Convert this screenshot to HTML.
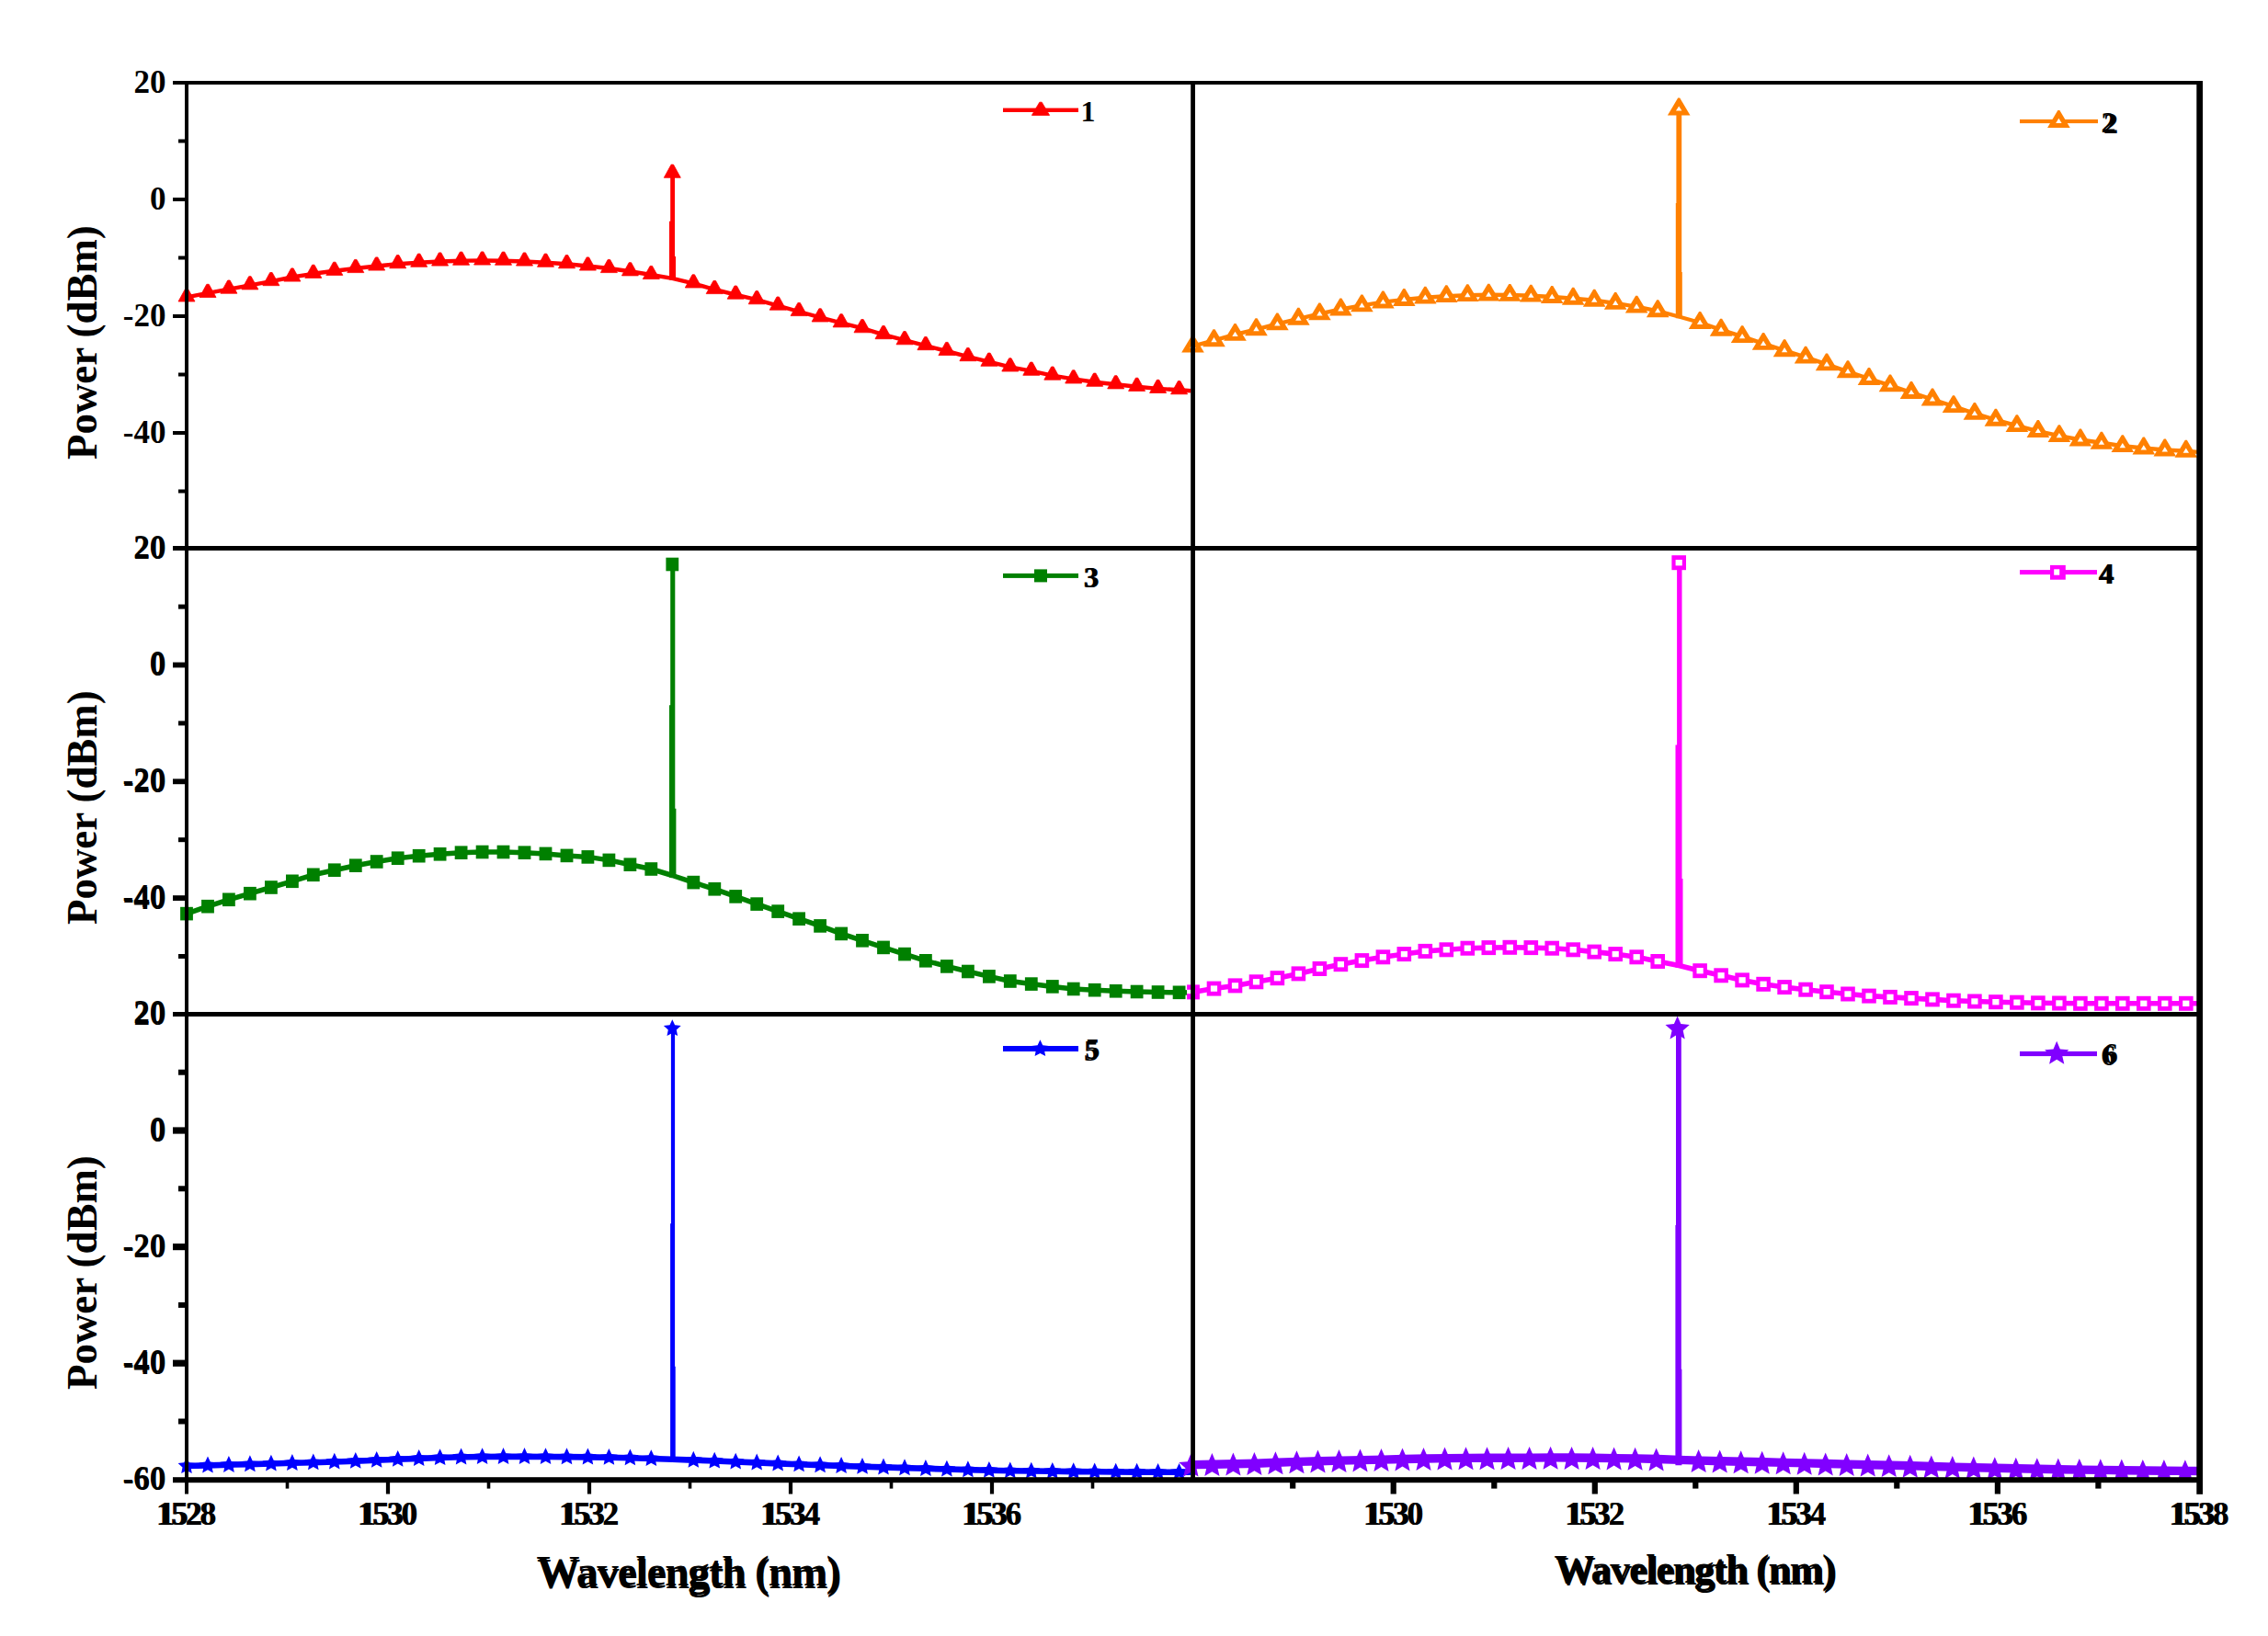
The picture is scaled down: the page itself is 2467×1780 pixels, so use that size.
<!DOCTYPE html>
<html lang="en"><head><meta charset="utf-8"><title>Spectra</title>
<style>html,body{margin:0;padding:0;background:#fff}svg{display:block}text{font-family:"Liberation Serif","DejaVu Serif",serif;font-weight:bold;fill:#000}</style></head><body>
<svg width="2467" height="1780" viewBox="0 0 2467 1780">
<rect width="2467" height="1780" fill="#fff"/>
<g>
<path d="M203 323.4L226 318.9L248.9 314.6L271.9 310.3L294.9 306.1L317.9 301.5L340.8 297.8L363.8 294.8L386.8 292L409.7 289.5L432.7 287.2L455.7 285.7L478.6 284.5L501.6 283.7L524.6 283.5L547.5 283.7L570.5 284.5L593.5 285.7L616.5 287.2L639.4 289.5L662.4 292L685.4 295.3L708.3 299L731.3 302.8L754.3 308.4L777.2 315L800.2 320.6L823.2 326.2L846.2 332.6L869.1 339L892.1 345.4L915.1 351.3L938 357.2L961 364.1L984 370.2L1006.9 376.1L1029.9 382L1052.9 388.1L1075.9 393.7L1098.8 399.4L1121.8 403.7L1144.8 408.6L1167.7 412.4L1190.7 415.7L1213.7 418.3L1236.6 420.8L1259.6 422.9L1282.6 424.2L1295.5 425.2" fill="none" stroke="#ff0000" stroke-width="4.4" stroke-linejoin="round"/>
<path d="M729.2 188.7L734 188.7L734 279L735 279L735 304.5L728 304.5L728 240.8L729.2 240.8Z" fill="#ff0000"/>
<path d="M201.8 313.8L204.2 313.8L212 328L194 328Z" fill="#ff0000" stroke="#ff0000" stroke-width="0.8" stroke-linejoin="round"/>
<path d="M224.8 309.3L227.2 309.3L235 323.5L217 323.5Z" fill="#ff0000" stroke="#ff0000" stroke-width="0.8" stroke-linejoin="round"/>
<path d="M247.7 305L250.1 305L257.9 319.2L239.9 319.2Z" fill="#ff0000" stroke="#ff0000" stroke-width="0.8" stroke-linejoin="round"/>
<path d="M270.7 300.7L273.1 300.7L280.9 314.9L262.9 314.9Z" fill="#ff0000" stroke="#ff0000" stroke-width="0.8" stroke-linejoin="round"/>
<path d="M293.7 296.5L296.1 296.5L303.9 310.7L285.9 310.7Z" fill="#ff0000" stroke="#ff0000" stroke-width="0.8" stroke-linejoin="round"/>
<path d="M316.7 291.9L319.1 291.9L326.9 306.1L308.9 306.1Z" fill="#ff0000" stroke="#ff0000" stroke-width="0.8" stroke-linejoin="round"/>
<path d="M339.6 288.2L342 288.2L349.8 302.4L331.8 302.4Z" fill="#ff0000" stroke="#ff0000" stroke-width="0.8" stroke-linejoin="round"/>
<path d="M362.6 285.2L365 285.2L372.8 299.4L354.8 299.4Z" fill="#ff0000" stroke="#ff0000" stroke-width="0.8" stroke-linejoin="round"/>
<path d="M385.6 282.4L388 282.4L395.8 296.6L377.8 296.6Z" fill="#ff0000" stroke="#ff0000" stroke-width="0.8" stroke-linejoin="round"/>
<path d="M408.5 279.9L410.9 279.9L418.7 294.1L400.7 294.1Z" fill="#ff0000" stroke="#ff0000" stroke-width="0.8" stroke-linejoin="round"/>
<path d="M431.5 277.6L433.9 277.6L441.7 291.8L423.7 291.8Z" fill="#ff0000" stroke="#ff0000" stroke-width="0.8" stroke-linejoin="round"/>
<path d="M454.5 276.1L456.9 276.1L464.7 290.3L446.7 290.3Z" fill="#ff0000" stroke="#ff0000" stroke-width="0.8" stroke-linejoin="round"/>
<path d="M477.4 274.9L479.8 274.9L487.6 289.1L469.6 289.1Z" fill="#ff0000" stroke="#ff0000" stroke-width="0.8" stroke-linejoin="round"/>
<path d="M500.4 274.1L502.8 274.1L510.6 288.3L492.6 288.3Z" fill="#ff0000" stroke="#ff0000" stroke-width="0.8" stroke-linejoin="round"/>
<path d="M523.4 273.9L525.8 273.9L533.6 288.1L515.6 288.1Z" fill="#ff0000" stroke="#ff0000" stroke-width="0.8" stroke-linejoin="round"/>
<path d="M546.3 274.1L548.8 274.1L556.5 288.3L538.5 288.3Z" fill="#ff0000" stroke="#ff0000" stroke-width="0.8" stroke-linejoin="round"/>
<path d="M569.3 274.9L571.7 274.9L579.5 289.1L561.5 289.1Z" fill="#ff0000" stroke="#ff0000" stroke-width="0.8" stroke-linejoin="round"/>
<path d="M592.3 276.1L594.7 276.1L602.5 290.3L584.5 290.3Z" fill="#ff0000" stroke="#ff0000" stroke-width="0.8" stroke-linejoin="round"/>
<path d="M615.3 277.6L617.7 277.6L625.5 291.8L607.5 291.8Z" fill="#ff0000" stroke="#ff0000" stroke-width="0.8" stroke-linejoin="round"/>
<path d="M638.2 279.9L640.6 279.9L648.4 294.1L630.4 294.1Z" fill="#ff0000" stroke="#ff0000" stroke-width="0.8" stroke-linejoin="round"/>
<path d="M661.2 282.4L663.6 282.4L671.4 296.6L653.4 296.6Z" fill="#ff0000" stroke="#ff0000" stroke-width="0.8" stroke-linejoin="round"/>
<path d="M684.2 285.7L686.6 285.7L694.4 299.9L676.4 299.9Z" fill="#ff0000" stroke="#ff0000" stroke-width="0.8" stroke-linejoin="round"/>
<path d="M707.1 289.4L709.5 289.4L717.3 303.6L699.3 303.6Z" fill="#ff0000" stroke="#ff0000" stroke-width="0.8" stroke-linejoin="round"/>
<path d="M730.1 179.1L732.5 179.1L740.3 193.3L722.3 193.3Z" fill="#ff0000" stroke="#ff0000" stroke-width="0.8" stroke-linejoin="round"/>
<path d="M753.1 298.8L755.5 298.8L763.3 313L745.3 313Z" fill="#ff0000" stroke="#ff0000" stroke-width="0.8" stroke-linejoin="round"/>
<path d="M776 305.4L778.5 305.4L786.2 319.6L768.2 319.6Z" fill="#ff0000" stroke="#ff0000" stroke-width="0.8" stroke-linejoin="round"/>
<path d="M799 311L801.4 311L809.2 325.2L791.2 325.2Z" fill="#ff0000" stroke="#ff0000" stroke-width="0.8" stroke-linejoin="round"/>
<path d="M822 316.6L824.4 316.6L832.2 330.8L814.2 330.8Z" fill="#ff0000" stroke="#ff0000" stroke-width="0.8" stroke-linejoin="round"/>
<path d="M845 323L847.4 323L855.2 337.2L837.2 337.2Z" fill="#ff0000" stroke="#ff0000" stroke-width="0.8" stroke-linejoin="round"/>
<path d="M867.9 329.4L870.3 329.4L878.1 343.6L860.1 343.6Z" fill="#ff0000" stroke="#ff0000" stroke-width="0.8" stroke-linejoin="round"/>
<path d="M890.9 335.8L893.3 335.8L901.1 350L883.1 350Z" fill="#ff0000" stroke="#ff0000" stroke-width="0.8" stroke-linejoin="round"/>
<path d="M913.9 341.7L916.3 341.7L924.1 355.9L906.1 355.9Z" fill="#ff0000" stroke="#ff0000" stroke-width="0.8" stroke-linejoin="round"/>
<path d="M936.8 347.6L939.2 347.6L947 361.8L929 361.8Z" fill="#ff0000" stroke="#ff0000" stroke-width="0.8" stroke-linejoin="round"/>
<path d="M959.8 354.5L962.2 354.5L970 368.7L952 368.7Z" fill="#ff0000" stroke="#ff0000" stroke-width="0.8" stroke-linejoin="round"/>
<path d="M982.8 360.6L985.2 360.6L993 374.8L975 374.8Z" fill="#ff0000" stroke="#ff0000" stroke-width="0.8" stroke-linejoin="round"/>
<path d="M1005.7 366.5L1008.1 366.5L1015.9 380.7L997.9 380.7Z" fill="#ff0000" stroke="#ff0000" stroke-width="0.8" stroke-linejoin="round"/>
<path d="M1028.7 372.4L1031.1 372.4L1038.9 386.6L1020.9 386.6Z" fill="#ff0000" stroke="#ff0000" stroke-width="0.8" stroke-linejoin="round"/>
<path d="M1051.7 378.5L1054.1 378.5L1061.9 392.7L1043.9 392.7Z" fill="#ff0000" stroke="#ff0000" stroke-width="0.8" stroke-linejoin="round"/>
<path d="M1074.7 384.1L1077.1 384.1L1084.9 398.3L1066.9 398.3Z" fill="#ff0000" stroke="#ff0000" stroke-width="0.8" stroke-linejoin="round"/>
<path d="M1097.6 389.8L1100 389.8L1107.8 404L1089.8 404Z" fill="#ff0000" stroke="#ff0000" stroke-width="0.8" stroke-linejoin="round"/>
<path d="M1120.6 394.1L1123 394.1L1130.8 408.3L1112.8 408.3Z" fill="#ff0000" stroke="#ff0000" stroke-width="0.8" stroke-linejoin="round"/>
<path d="M1143.6 399L1146 399L1153.8 413.2L1135.8 413.2Z" fill="#ff0000" stroke="#ff0000" stroke-width="0.8" stroke-linejoin="round"/>
<path d="M1166.5 402.8L1168.9 402.8L1176.7 417L1158.7 417Z" fill="#ff0000" stroke="#ff0000" stroke-width="0.8" stroke-linejoin="round"/>
<path d="M1189.5 406.1L1191.9 406.1L1199.7 420.3L1181.7 420.3Z" fill="#ff0000" stroke="#ff0000" stroke-width="0.8" stroke-linejoin="round"/>
<path d="M1212.5 408.7L1214.9 408.7L1222.7 422.9L1204.7 422.9Z" fill="#ff0000" stroke="#ff0000" stroke-width="0.8" stroke-linejoin="round"/>
<path d="M1235.4 411.2L1237.8 411.2L1245.6 425.4L1227.6 425.4Z" fill="#ff0000" stroke="#ff0000" stroke-width="0.8" stroke-linejoin="round"/>
<path d="M1258.4 413.3L1260.8 413.3L1268.6 427.5L1250.6 427.5Z" fill="#ff0000" stroke="#ff0000" stroke-width="0.8" stroke-linejoin="round"/>
<path d="M1281.4 414.6L1283.8 414.6L1291.6 428.8L1273.6 428.8Z" fill="#ff0000" stroke="#ff0000" stroke-width="0.8" stroke-linejoin="round"/>
</g>
<g>
<path d="M1297.5 376.7L1320.5 370.3L1343.5 363.9L1366.5 358.3L1389.4 352.4L1412.4 346.8L1435.4 341.4L1458.4 336.5L1481.4 332.4L1504.4 328.6L1527.3 326L1550.3 323.7L1573.3 322.2L1596.3 321.2L1619.3 320.7L1642.3 320.9L1665.3 321.7L1688.2 323L1711.2 324.8L1734.2 326.8L1757.2 329.9L1780.2 333.7L1803.2 338.3L1826.2 344.5L1849.1 351L1872.1 358.8L1895.1 366.2L1918.1 373.9L1941.1 381.3L1964.1 388.7L1987 396.4L2010 404.3L2033 412L2056 419.4L2079 427.1L2102 434.5L2125 442.2L2147.9 449.9L2170.9 456.8L2193.9 463.2L2216.9 469.1L2239.9 474.2L2262.9 478.5L2285.9 481.8L2308.8 485.2L2331.8 487.5L2354.8 489.5L2377.8 490.8L2391 491.9" fill="none" stroke="#ff8000" stroke-width="4.4" stroke-linejoin="round"/>
<path d="M1823.4 118.6L1829.2 118.6L1829.2 296.1L1829.8 296.1L1829.8 346.2L1822.8 346.2L1822.8 221L1823.4 221Z" fill="#ff8000"/>
<path d="M1296.5 364.7L1298.5 364.7L1309.8 383.6L1285.2 383.6Z" fill="#ff8000"/><path d="M1297.5 373.5L1300.7 378.7L1294.3 378.7Z" fill="#fff"/>
<path d="M1319.5 358.3L1321.5 358.3L1332.8 377.2L1308.2 377.2Z" fill="#ff8000"/><path d="M1320.5 367.1L1323.7 372.3L1317.3 372.3Z" fill="#fff"/>
<path d="M1342.5 351.9L1344.5 351.9L1355.8 370.8L1331.2 370.8Z" fill="#ff8000"/><path d="M1343.5 360.7L1346.7 365.9L1340.3 365.9Z" fill="#fff"/>
<path d="M1365.5 346.3L1367.5 346.3L1378.8 365.2L1354.2 365.2Z" fill="#ff8000"/><path d="M1366.5 355.1L1369.7 360.3L1363.3 360.3Z" fill="#fff"/>
<path d="M1388.4 340.4L1390.4 340.4L1401.7 359.3L1377.1 359.3Z" fill="#ff8000"/><path d="M1389.4 349.2L1392.6 354.4L1386.2 354.4Z" fill="#fff"/>
<path d="M1411.4 334.8L1413.4 334.8L1424.7 353.7L1400.1 353.7Z" fill="#ff8000"/><path d="M1412.4 343.6L1415.6 348.8L1409.2 348.8Z" fill="#fff"/>
<path d="M1434.4 329.4L1436.4 329.4L1447.7 348.3L1423.1 348.3Z" fill="#ff8000"/><path d="M1435.4 338.2L1438.6 343.4L1432.2 343.4Z" fill="#fff"/>
<path d="M1457.4 324.5L1459.4 324.5L1470.7 343.4L1446.1 343.4Z" fill="#ff8000"/><path d="M1458.4 333.3L1461.6 338.5L1455.2 338.5Z" fill="#fff"/>
<path d="M1480.4 320.4L1482.4 320.4L1493.7 339.3L1469.1 339.3Z" fill="#ff8000"/><path d="M1481.4 329.2L1484.6 334.4L1478.2 334.4Z" fill="#fff"/>
<path d="M1503.4 316.6L1505.4 316.6L1516.7 335.5L1492.1 335.5Z" fill="#ff8000"/><path d="M1504.4 325.4L1507.6 330.6L1501.2 330.6Z" fill="#fff"/>
<path d="M1526.3 314L1528.3 314L1539.6 332.9L1515 332.9Z" fill="#ff8000"/><path d="M1527.3 322.8L1530.5 328L1524.1 328Z" fill="#fff"/>
<path d="M1549.3 311.7L1551.3 311.7L1562.6 330.6L1538 330.6Z" fill="#ff8000"/><path d="M1550.3 320.5L1553.5 325.7L1547.1 325.7Z" fill="#fff"/>
<path d="M1572.3 310.2L1574.3 310.2L1585.6 329.1L1561 329.1Z" fill="#ff8000"/><path d="M1573.3 319L1576.5 324.2L1570.1 324.2Z" fill="#fff"/>
<path d="M1595.3 309.2L1597.3 309.2L1608.6 328.1L1584 328.1Z" fill="#ff8000"/><path d="M1596.3 318L1599.5 323.2L1593.1 323.2Z" fill="#fff"/>
<path d="M1618.3 308.7L1620.3 308.7L1631.6 327.6L1607 327.6Z" fill="#ff8000"/><path d="M1619.3 317.5L1622.5 322.7L1616.1 322.7Z" fill="#fff"/>
<path d="M1641.3 308.9L1643.3 308.9L1654.6 327.8L1630 327.8Z" fill="#ff8000"/><path d="M1642.3 317.7L1645.5 322.9L1639.1 322.9Z" fill="#fff"/>
<path d="M1664.3 309.7L1666.3 309.7L1677.6 328.6L1653 328.6Z" fill="#ff8000"/><path d="M1665.3 318.5L1668.5 323.7L1662.1 323.7Z" fill="#fff"/>
<path d="M1687.2 311L1689.2 311L1700.5 329.9L1675.9 329.9Z" fill="#ff8000"/><path d="M1688.2 319.8L1691.4 325L1685 325Z" fill="#fff"/>
<path d="M1710.2 312.8L1712.2 312.8L1723.5 331.7L1698.9 331.7Z" fill="#ff8000"/><path d="M1711.2 321.6L1714.4 326.8L1708 326.8Z" fill="#fff"/>
<path d="M1733.2 314.8L1735.2 314.8L1746.5 333.7L1721.9 333.7Z" fill="#ff8000"/><path d="M1734.2 323.6L1737.4 328.8L1731 328.8Z" fill="#fff"/>
<path d="M1756.2 317.9L1758.2 317.9L1769.5 336.8L1744.9 336.8Z" fill="#ff8000"/><path d="M1757.2 326.7L1760.4 331.9L1754 331.9Z" fill="#fff"/>
<path d="M1779.2 321.7L1781.2 321.7L1792.5 340.6L1767.9 340.6Z" fill="#ff8000"/><path d="M1780.2 330.5L1783.4 335.7L1777 335.7Z" fill="#fff"/>
<path d="M1802.2 326.3L1804.2 326.3L1815.5 345.2L1790.9 345.2Z" fill="#ff8000"/><path d="M1803.2 335.1L1806.4 340.3L1800 340.3Z" fill="#fff"/>
<path d="M1825.2 106.6L1827.2 106.6L1838.5 125.5L1813.9 125.5Z" fill="#ff8000"/><path d="M1826.2 115.4L1829.4 120.6L1823 120.6Z" fill="#fff"/>
<path d="M1848.1 339L1850.1 339L1861.4 357.9L1836.8 357.9Z" fill="#ff8000"/><path d="M1849.1 347.8L1852.3 353L1845.9 353Z" fill="#fff"/>
<path d="M1871.1 346.8L1873.1 346.8L1884.4 365.7L1859.8 365.7Z" fill="#ff8000"/><path d="M1872.1 355.6L1875.3 360.8L1868.9 360.8Z" fill="#fff"/>
<path d="M1894.1 354.2L1896.1 354.2L1907.4 373.1L1882.8 373.1Z" fill="#ff8000"/><path d="M1895.1 363L1898.3 368.2L1891.9 368.2Z" fill="#fff"/>
<path d="M1917.1 361.9L1919.1 361.9L1930.4 380.8L1905.8 380.8Z" fill="#ff8000"/><path d="M1918.1 370.7L1921.3 375.9L1914.9 375.9Z" fill="#fff"/>
<path d="M1940.1 369.3L1942.1 369.3L1953.4 388.2L1928.8 388.2Z" fill="#ff8000"/><path d="M1941.1 378.1L1944.3 383.3L1937.9 383.3Z" fill="#fff"/>
<path d="M1963.1 376.7L1965.1 376.7L1976.4 395.6L1951.8 395.6Z" fill="#ff8000"/><path d="M1964.1 385.5L1967.3 390.7L1960.9 390.7Z" fill="#fff"/>
<path d="M1986 384.4L1988 384.4L1999.3 403.3L1974.8 403.3Z" fill="#ff8000"/><path d="M1987 393.2L1990.2 398.4L1983.8 398.4Z" fill="#fff"/>
<path d="M2009 392.3L2011 392.3L2022.3 411.2L1997.7 411.2Z" fill="#ff8000"/><path d="M2010 401.1L2013.2 406.3L2006.8 406.3Z" fill="#fff"/>
<path d="M2032 400L2034 400L2045.3 418.9L2020.7 418.9Z" fill="#ff8000"/><path d="M2033 408.8L2036.2 414L2029.8 414Z" fill="#fff"/>
<path d="M2055 407.4L2057 407.4L2068.3 426.3L2043.7 426.3Z" fill="#ff8000"/><path d="M2056 416.2L2059.2 421.4L2052.8 421.4Z" fill="#fff"/>
<path d="M2078 415.1L2080 415.1L2091.3 434L2066.7 434Z" fill="#ff8000"/><path d="M2079 423.9L2082.2 429.1L2075.8 429.1Z" fill="#fff"/>
<path d="M2101 422.5L2103 422.5L2114.3 441.4L2089.7 441.4Z" fill="#ff8000"/><path d="M2102 431.3L2105.2 436.5L2098.8 436.5Z" fill="#fff"/>
<path d="M2124 430.2L2126 430.2L2137.3 449.1L2112.7 449.1Z" fill="#ff8000"/><path d="M2125 439L2128.2 444.2L2121.8 444.2Z" fill="#fff"/>
<path d="M2146.9 437.9L2148.9 437.9L2160.2 456.8L2135.6 456.8Z" fill="#ff8000"/><path d="M2147.9 446.7L2151.1 451.9L2144.7 451.9Z" fill="#fff"/>
<path d="M2169.9 444.8L2171.9 444.8L2183.2 463.7L2158.6 463.7Z" fill="#ff8000"/><path d="M2170.9 453.6L2174.1 458.8L2167.7 458.8Z" fill="#fff"/>
<path d="M2192.9 451.2L2194.9 451.2L2206.2 470.1L2181.6 470.1Z" fill="#ff8000"/><path d="M2193.9 460L2197.1 465.2L2190.7 465.2Z" fill="#fff"/>
<path d="M2215.9 457.1L2217.9 457.1L2229.2 476L2204.6 476Z" fill="#ff8000"/><path d="M2216.9 465.9L2220.1 471.1L2213.7 471.1Z" fill="#fff"/>
<path d="M2238.9 462.2L2240.9 462.2L2252.2 481.1L2227.6 481.1Z" fill="#ff8000"/><path d="M2239.9 471L2243.1 476.2L2236.7 476.2Z" fill="#fff"/>
<path d="M2261.9 466.5L2263.9 466.5L2275.2 485.4L2250.6 485.4Z" fill="#ff8000"/><path d="M2262.9 475.3L2266.1 480.5L2259.7 480.5Z" fill="#fff"/>
<path d="M2284.9 469.8L2286.9 469.8L2298.2 488.7L2273.6 488.7Z" fill="#ff8000"/><path d="M2285.9 478.6L2289.1 483.8L2282.7 483.8Z" fill="#fff"/>
<path d="M2307.8 473.2L2309.8 473.2L2321.1 492.1L2296.5 492.1Z" fill="#ff8000"/><path d="M2308.8 482L2312 487.2L2305.6 487.2Z" fill="#fff"/>
<path d="M2330.8 475.5L2332.8 475.5L2344.1 494.4L2319.5 494.4Z" fill="#ff8000"/><path d="M2331.8 484.3L2335 489.5L2328.6 489.5Z" fill="#fff"/>
<path d="M2353.8 477.5L2355.8 477.5L2367.1 496.4L2342.5 496.4Z" fill="#ff8000"/><path d="M2354.8 486.3L2358 491.5L2351.6 491.5Z" fill="#fff"/>
<path d="M2376.8 478.8L2378.8 478.8L2390.1 497.7L2365.5 497.7Z" fill="#ff8000"/><path d="M2377.8 487.6L2381 492.8L2374.6 492.8Z" fill="#fff"/>
</g>
<g>
<path d="M203 994.1L226 986.2L248.9 978.8L271.9 972.2L294.9 965.5L317.9 958.8L340.8 951.8L363.8 946.7L386.8 941.7L409.7 937.5L432.7 933.7L455.7 931.2L478.6 929.3L501.6 927.7L524.6 927L547.5 927L570.5 927.7L593.5 928.9L616.5 930.9L639.4 932.4L662.4 935.9L685.4 940.7L708.3 945.5L731.3 952.5L754.3 960.1L777.2 967.3L800.2 975.4L823.2 983.6L846.2 991.6L869.1 999.7L892.1 1007.4L915.1 1015.9L938 1023.3L961 1030.9L984 1038.1L1006.9 1045.3L1029.9 1051.4L1052.9 1057L1075.9 1062.4L1098.8 1067.5L1121.8 1070.6L1144.8 1073.4L1167.7 1076L1190.7 1077.2L1213.7 1078.3L1236.6 1079L1259.6 1079.5L1282.6 1079.8L1295.5 1080" fill="none" stroke="#008000" stroke-width="5.5" stroke-linejoin="round"/>
<path d="M729.2 614L734.3 614L734.3 879.8L735.4 879.8L735.4 954.8L728 954.8L728 767.3L729.2 767.3Z" fill="#008000"/>
<rect x="196.1" y="986.8" width="13.8" height="14.6" fill="#008000"/>
<rect x="219.1" y="978.9" width="13.8" height="14.6" fill="#008000"/>
<rect x="242" y="971.5" width="13.8" height="14.6" fill="#008000"/>
<rect x="265" y="964.9" width="13.8" height="14.6" fill="#008000"/>
<rect x="288" y="958.2" width="13.8" height="14.6" fill="#008000"/>
<rect x="311" y="951.5" width="13.8" height="14.6" fill="#008000"/>
<rect x="333.9" y="944.5" width="13.8" height="14.6" fill="#008000"/>
<rect x="356.9" y="939.4" width="13.8" height="14.6" fill="#008000"/>
<rect x="379.9" y="934.4" width="13.8" height="14.6" fill="#008000"/>
<rect x="402.8" y="930.2" width="13.8" height="14.6" fill="#008000"/>
<rect x="425.8" y="926.4" width="13.8" height="14.6" fill="#008000"/>
<rect x="448.8" y="923.9" width="13.8" height="14.6" fill="#008000"/>
<rect x="471.7" y="922" width="13.8" height="14.6" fill="#008000"/>
<rect x="494.7" y="920.4" width="13.8" height="14.6" fill="#008000"/>
<rect x="517.7" y="919.7" width="13.8" height="14.6" fill="#008000"/>
<rect x="540.6" y="919.7" width="13.8" height="14.6" fill="#008000"/>
<rect x="563.6" y="920.4" width="13.8" height="14.6" fill="#008000"/>
<rect x="586.6" y="921.6" width="13.8" height="14.6" fill="#008000"/>
<rect x="609.6" y="923.6" width="13.8" height="14.6" fill="#008000"/>
<rect x="632.5" y="925.1" width="13.8" height="14.6" fill="#008000"/>
<rect x="655.5" y="928.6" width="13.8" height="14.6" fill="#008000"/>
<rect x="678.5" y="933.4" width="13.8" height="14.6" fill="#008000"/>
<rect x="701.4" y="938.2" width="13.8" height="14.6" fill="#008000"/>
<rect x="724.4" y="606.7" width="13.8" height="14.6" fill="#008000"/>
<rect x="747.4" y="952.8" width="13.8" height="14.6" fill="#008000"/>
<rect x="770.4" y="960" width="13.8" height="14.6" fill="#008000"/>
<rect x="793.3" y="968.1" width="13.8" height="14.6" fill="#008000"/>
<rect x="816.3" y="976.3" width="13.8" height="14.6" fill="#008000"/>
<rect x="839.3" y="984.3" width="13.8" height="14.6" fill="#008000"/>
<rect x="862.2" y="992.4" width="13.8" height="14.6" fill="#008000"/>
<rect x="885.2" y="1000.1" width="13.8" height="14.6" fill="#008000"/>
<rect x="908.2" y="1008.6" width="13.8" height="14.6" fill="#008000"/>
<rect x="931.1" y="1016" width="13.8" height="14.6" fill="#008000"/>
<rect x="954.1" y="1023.6" width="13.8" height="14.6" fill="#008000"/>
<rect x="977.1" y="1030.8" width="13.8" height="14.6" fill="#008000"/>
<rect x="1000" y="1038" width="13.8" height="14.6" fill="#008000"/>
<rect x="1023" y="1044.1" width="13.8" height="14.6" fill="#008000"/>
<rect x="1046" y="1049.7" width="13.8" height="14.6" fill="#008000"/>
<rect x="1069" y="1055.1" width="13.8" height="14.6" fill="#008000"/>
<rect x="1091.9" y="1060.2" width="13.8" height="14.6" fill="#008000"/>
<rect x="1114.9" y="1063.3" width="13.8" height="14.6" fill="#008000"/>
<rect x="1137.9" y="1066.1" width="13.8" height="14.6" fill="#008000"/>
<rect x="1160.8" y="1068.7" width="13.8" height="14.6" fill="#008000"/>
<rect x="1183.8" y="1069.9" width="13.8" height="14.6" fill="#008000"/>
<rect x="1206.8" y="1071" width="13.8" height="14.6" fill="#008000"/>
<rect x="1229.7" y="1071.7" width="13.8" height="14.6" fill="#008000"/>
<rect x="1252.7" y="1072.2" width="13.8" height="14.6" fill="#008000"/>
<rect x="1275.7" y="1072.5" width="13.8" height="14.6" fill="#008000"/>
</g>
<g>
<path d="M1297.5 1079.4L1320.5 1075.6L1343.5 1072.4L1366.5 1068.3L1389.4 1064.2L1412.4 1059.4L1435.4 1054L1458.4 1049.2L1481.4 1045.1L1504.4 1041.3L1527.3 1038.1L1550.3 1034.9L1573.3 1033.3L1596.3 1031.7L1619.3 1031.1L1642.3 1030.8L1665.3 1031.1L1688.2 1031.7L1711.2 1033.3L1734.2 1035.6L1757.2 1038.1L1780.2 1041.3L1803.2 1046L1826.2 1050.5L1849.1 1056.2L1872.1 1061.3L1895.1 1066.4L1918.1 1070.8L1941.1 1074.1L1964.1 1076.7L1987 1079.2L2010 1081.5L2033 1083.6L2056 1084.9L2079 1086.1L2102 1087.4L2125 1088.7L2147.9 1089.5L2170.9 1090.2L2193.9 1090.7L2216.9 1091.3L2239.9 1091.5L2262.9 1091.8L2285.9 1091.8L2308.8 1091.8L2331.8 1091.8L2354.8 1091.8L2377.8 1091.8L2391 1091.8" fill="none" stroke="#ff00ff" stroke-width="5.6" stroke-linejoin="round"/>
<path d="M1824.1 612.2L1829.5 612.2L1829.5 955.9L1830.5 955.9L1830.5 1052.8L1822.5 1052.8L1822.5 810.5L1824.1 810.5Z" fill="#ff00ff"/>
<rect x="1291.1" y="1071.4" width="13.8" height="16" fill="#ff00ff"/>
<rect x="1291.1" y="1076.8" width="9" height="4.4" fill="#fff"/>
<rect x="1312.7" y="1067.6" width="15.6" height="16" fill="#ff00ff"/><rect x="1316.9" y="1072.4" width="7.2" height="6.4" fill="#fff"/>
<rect x="1335.7" y="1064.4" width="15.6" height="16" fill="#ff00ff"/><rect x="1339.9" y="1069.2" width="7.2" height="6.4" fill="#fff"/>
<rect x="1358.7" y="1060.3" width="15.6" height="16" fill="#ff00ff"/><rect x="1362.9" y="1065.1" width="7.2" height="6.4" fill="#fff"/>
<rect x="1381.6" y="1056.2" width="15.6" height="16" fill="#ff00ff"/><rect x="1385.8" y="1061" width="7.2" height="6.4" fill="#fff"/>
<rect x="1404.6" y="1051.4" width="15.6" height="16" fill="#ff00ff"/><rect x="1408.8" y="1056.2" width="7.2" height="6.4" fill="#fff"/>
<rect x="1427.6" y="1046" width="15.6" height="16" fill="#ff00ff"/><rect x="1431.8" y="1050.8" width="7.2" height="6.4" fill="#fff"/>
<rect x="1450.6" y="1041.2" width="15.6" height="16" fill="#ff00ff"/><rect x="1454.8" y="1046" width="7.2" height="6.4" fill="#fff"/>
<rect x="1473.6" y="1037.1" width="15.6" height="16" fill="#ff00ff"/><rect x="1477.8" y="1041.9" width="7.2" height="6.4" fill="#fff"/>
<rect x="1496.6" y="1033.3" width="15.6" height="16" fill="#ff00ff"/><rect x="1500.8" y="1038.1" width="7.2" height="6.4" fill="#fff"/>
<rect x="1519.5" y="1030.1" width="15.6" height="16" fill="#ff00ff"/><rect x="1523.8" y="1034.9" width="7.2" height="6.4" fill="#fff"/>
<rect x="1542.5" y="1026.9" width="15.6" height="16" fill="#ff00ff"/><rect x="1546.7" y="1031.7" width="7.2" height="6.4" fill="#fff"/>
<rect x="1565.5" y="1025.3" width="15.6" height="16" fill="#ff00ff"/><rect x="1569.7" y="1030.1" width="7.2" height="6.4" fill="#fff"/>
<rect x="1588.5" y="1023.7" width="15.6" height="16" fill="#ff00ff"/><rect x="1592.7" y="1028.5" width="7.2" height="6.4" fill="#fff"/>
<rect x="1611.5" y="1023.1" width="15.6" height="16" fill="#ff00ff"/><rect x="1615.7" y="1027.9" width="7.2" height="6.4" fill="#fff"/>
<rect x="1634.5" y="1022.8" width="15.6" height="16" fill="#ff00ff"/><rect x="1638.7" y="1027.6" width="7.2" height="6.4" fill="#fff"/>
<rect x="1657.5" y="1023.1" width="15.6" height="16" fill="#ff00ff"/><rect x="1661.7" y="1027.9" width="7.2" height="6.4" fill="#fff"/>
<rect x="1680.4" y="1023.7" width="15.6" height="16" fill="#ff00ff"/><rect x="1684.6" y="1028.5" width="7.2" height="6.4" fill="#fff"/>
<rect x="1703.4" y="1025.3" width="15.6" height="16" fill="#ff00ff"/><rect x="1707.6" y="1030.1" width="7.2" height="6.4" fill="#fff"/>
<rect x="1726.4" y="1027.6" width="15.6" height="16" fill="#ff00ff"/><rect x="1730.6" y="1032.4" width="7.2" height="6.4" fill="#fff"/>
<rect x="1749.4" y="1030.1" width="15.6" height="16" fill="#ff00ff"/><rect x="1753.6" y="1034.9" width="7.2" height="6.4" fill="#fff"/>
<rect x="1772.4" y="1033.3" width="15.6" height="16" fill="#ff00ff"/><rect x="1776.6" y="1038.1" width="7.2" height="6.4" fill="#fff"/>
<rect x="1795.4" y="1038" width="15.6" height="16" fill="#ff00ff"/><rect x="1799.6" y="1042.8" width="7.2" height="6.4" fill="#fff"/>
<rect x="1818.4" y="604.2" width="15.6" height="16" fill="#ff00ff"/><rect x="1822.6" y="609" width="7.2" height="6.4" fill="#fff"/>
<rect x="1841.3" y="1048.2" width="15.6" height="16" fill="#ff00ff"/><rect x="1845.5" y="1053" width="7.2" height="6.4" fill="#fff"/>
<rect x="1864.3" y="1053.3" width="15.6" height="16" fill="#ff00ff"/><rect x="1868.5" y="1058.1" width="7.2" height="6.4" fill="#fff"/>
<rect x="1887.3" y="1058.4" width="15.6" height="16" fill="#ff00ff"/><rect x="1891.5" y="1063.2" width="7.2" height="6.4" fill="#fff"/>
<rect x="1910.3" y="1062.8" width="15.6" height="16" fill="#ff00ff"/><rect x="1914.5" y="1067.6" width="7.2" height="6.4" fill="#fff"/>
<rect x="1933.3" y="1066.1" width="15.6" height="16" fill="#ff00ff"/><rect x="1937.5" y="1070.9" width="7.2" height="6.4" fill="#fff"/>
<rect x="1956.3" y="1068.7" width="15.6" height="16" fill="#ff00ff"/><rect x="1960.5" y="1073.5" width="7.2" height="6.4" fill="#fff"/>
<rect x="1979.2" y="1071.2" width="15.6" height="16" fill="#ff00ff"/><rect x="1983.5" y="1076" width="7.2" height="6.4" fill="#fff"/>
<rect x="2002.2" y="1073.5" width="15.6" height="16" fill="#ff00ff"/><rect x="2006.4" y="1078.3" width="7.2" height="6.4" fill="#fff"/>
<rect x="2025.2" y="1075.6" width="15.6" height="16" fill="#ff00ff"/><rect x="2029.4" y="1080.4" width="7.2" height="6.4" fill="#fff"/>
<rect x="2048.2" y="1076.9" width="15.6" height="16" fill="#ff00ff"/><rect x="2052.4" y="1081.7" width="7.2" height="6.4" fill="#fff"/>
<rect x="2071.2" y="1078.1" width="15.6" height="16" fill="#ff00ff"/><rect x="2075.4" y="1082.9" width="7.2" height="6.4" fill="#fff"/>
<rect x="2094.2" y="1079.4" width="15.6" height="16" fill="#ff00ff"/><rect x="2098.4" y="1084.2" width="7.2" height="6.4" fill="#fff"/>
<rect x="2117.2" y="1080.7" width="15.6" height="16" fill="#ff00ff"/><rect x="2121.4" y="1085.5" width="7.2" height="6.4" fill="#fff"/>
<rect x="2140.1" y="1081.5" width="15.6" height="16" fill="#ff00ff"/><rect x="2144.3" y="1086.3" width="7.2" height="6.4" fill="#fff"/>
<rect x="2163.1" y="1082.2" width="15.6" height="16" fill="#ff00ff"/><rect x="2167.3" y="1087" width="7.2" height="6.4" fill="#fff"/>
<rect x="2186.1" y="1082.7" width="15.6" height="16" fill="#ff00ff"/><rect x="2190.3" y="1087.5" width="7.2" height="6.4" fill="#fff"/>
<rect x="2209.1" y="1083.3" width="15.6" height="16" fill="#ff00ff"/><rect x="2213.3" y="1088.1" width="7.2" height="6.4" fill="#fff"/>
<rect x="2232.1" y="1083.5" width="15.6" height="16" fill="#ff00ff"/><rect x="2236.3" y="1088.3" width="7.2" height="6.4" fill="#fff"/>
<rect x="2255.1" y="1083.8" width="15.6" height="16" fill="#ff00ff"/><rect x="2259.3" y="1088.6" width="7.2" height="6.4" fill="#fff"/>
<rect x="2278.1" y="1083.8" width="15.6" height="16" fill="#ff00ff"/><rect x="2282.3" y="1088.6" width="7.2" height="6.4" fill="#fff"/>
<rect x="2301" y="1083.8" width="15.6" height="16" fill="#ff00ff"/><rect x="2305.2" y="1088.6" width="7.2" height="6.4" fill="#fff"/>
<rect x="2324" y="1083.8" width="15.6" height="16" fill="#ff00ff"/><rect x="2328.2" y="1088.6" width="7.2" height="6.4" fill="#fff"/>
<rect x="2347" y="1083.8" width="15.6" height="16" fill="#ff00ff"/><rect x="2351.2" y="1088.6" width="7.2" height="6.4" fill="#fff"/>
<rect x="2370" y="1083.8" width="15.6" height="16" fill="#ff00ff"/><rect x="2374.2" y="1088.6" width="7.2" height="6.4" fill="#fff"/>
</g>
<g>
<path d="M203 1595L226 1594.4L248.9 1593.7L271.9 1593.1L294.9 1592.5L317.9 1591.8L340.8 1591.2L363.8 1590.5L386.8 1589.7L409.7 1588.7L432.7 1587.7L455.7 1586.9L478.6 1586L501.6 1585.3L524.6 1585L547.5 1584.9L570.5 1584.9L593.5 1585L616.5 1585.1L639.4 1585.4L662.4 1585.7L685.4 1586.2L708.3 1587L731.3 1587.8L754.3 1588.6L777.2 1589.5L800.2 1590.5L823.2 1591.4L846.2 1592.4L869.1 1593.2L892.1 1594.1L915.1 1594.9L938 1595.7L961 1596.4L984 1597.1L1006.9 1597.8L1029.9 1598.5L1052.9 1599.1L1075.9 1599.7L1098.8 1600.2L1121.8 1600.5L1144.8 1600.8L1167.7 1601.1L1190.7 1601.3L1213.7 1601.5L1236.6 1601.6L1259.6 1601.7L1282.6 1601.7L1295.5 1601.7" fill="none" stroke="#0000ff" stroke-width="6.6" stroke-linejoin="round"/>
<path d="M729.9 1119L734.1 1119L734.1 1486.8L734.7 1486.8L734.7 1590.6L729.1 1590.6L729.1 1331.2L729.9 1331.2Z" fill="#0000ff"/>
<path d="M203 1585.2L205.8 1591.3L212.4 1592L207.5 1596.6L208.8 1603.1L203 1599.9L197.2 1603.1L198.5 1596.6L193.6 1592L200.2 1591.3Z" fill="#0000ff"/>
<path d="M226 1584.6L228.8 1590.6L235.4 1591.4L230.5 1595.9L231.8 1602.5L226 1599.2L220.2 1602.5L221.5 1595.9L216.6 1591.4L223.2 1590.6Z" fill="#0000ff"/>
<path d="M248.9 1583.9L251.7 1590L258.4 1590.8L253.5 1595.3L254.8 1601.9L248.9 1598.6L243.1 1601.9L244.4 1595.3L239.5 1590.8L246.1 1590Z" fill="#0000ff"/>
<path d="M271.9 1583.3L274.7 1589.4L281.3 1590.1L276.4 1594.7L277.7 1601.2L271.9 1598L266.1 1601.2L267.4 1594.7L262.5 1590.1L269.1 1589.4Z" fill="#0000ff"/>
<path d="M294.9 1582.7L297.7 1588.7L304.3 1589.5L299.4 1594L300.7 1600.6L294.9 1597.3L289.1 1600.6L290.4 1594L285.5 1589.5L292.1 1588.7Z" fill="#0000ff"/>
<path d="M317.9 1582L320.6 1588.1L327.3 1588.9L322.4 1593.4L323.7 1599.9L317.9 1596.7L312 1599.9L313.3 1593.4L308.4 1588.9L315.1 1588.1Z" fill="#0000ff"/>
<path d="M340.8 1581.4L343.6 1587.4L350.2 1588.2L345.3 1592.8L346.6 1599.3L340.8 1596L335 1599.3L336.3 1592.8L331.4 1588.2L338 1587.4Z" fill="#0000ff"/>
<path d="M363.8 1580.7L366.6 1586.7L373.2 1587.5L368.3 1592.1L369.6 1598.6L363.8 1595.3L358 1598.6L359.3 1592.1L354.4 1587.5L361 1586.7Z" fill="#0000ff"/>
<path d="M386.8 1579.9L389.6 1585.9L396.2 1586.7L391.3 1591.2L392.6 1597.8L386.8 1594.5L380.9 1597.8L382.2 1591.2L377.3 1586.7L384 1585.9Z" fill="#0000ff"/>
<path d="M409.7 1578.9L412.5 1584.9L419.1 1585.7L414.2 1590.2L415.5 1596.8L409.7 1593.5L403.9 1596.8L405.2 1590.2L400.3 1585.7L406.9 1584.9Z" fill="#0000ff"/>
<path d="M432.7 1577.9L435.5 1584L442.1 1584.7L437.2 1589.3L438.5 1595.8L432.7 1592.6L426.9 1595.8L428.2 1589.3L423.3 1584.7L429.9 1584Z" fill="#0000ff"/>
<path d="M455.7 1577.1L458.5 1583.1L465.1 1583.9L460.2 1588.4L461.5 1595L455.7 1591.7L449.9 1595L451.2 1588.4L446.3 1583.9L452.9 1583.1Z" fill="#0000ff"/>
<path d="M478.6 1576.2L481.4 1582.3L488.1 1583.1L483.2 1587.6L484.5 1594.1L478.6 1590.9L472.8 1594.1L474.1 1587.6L469.2 1583.1L475.8 1582.3Z" fill="#0000ff"/>
<path d="M501.6 1575.5L504.4 1581.6L511 1582.3L506.1 1586.9L507.4 1593.4L501.6 1590.2L495.8 1593.4L497.1 1586.9L492.2 1582.3L498.8 1581.6Z" fill="#0000ff"/>
<path d="M524.6 1575.2L527.4 1581.2L534 1582L529.1 1586.6L530.4 1593.1L524.6 1589.8L518.8 1593.1L520.1 1586.6L515.2 1582L521.8 1581.2Z" fill="#0000ff"/>
<path d="M547.5 1575.1L550.3 1581.2L557 1582L552.1 1586.5L553.4 1593L547.5 1589.8L541.7 1593L543 1586.5L538.1 1582L544.8 1581.2Z" fill="#0000ff"/>
<path d="M570.5 1575.1L573.3 1581.2L579.9 1581.9L575 1586.5L576.3 1593L570.5 1589.8L564.7 1593L566 1586.5L561.1 1581.9L567.7 1581.2Z" fill="#0000ff"/>
<path d="M593.5 1575.2L596.3 1581.2L602.9 1582L598 1586.5L599.3 1593.1L593.5 1589.8L587.7 1593.1L589 1586.5L584.1 1582L590.7 1581.2Z" fill="#0000ff"/>
<path d="M616.5 1575.3L619.3 1581.4L625.9 1582.2L621 1586.7L622.3 1593.2L616.5 1590L610.6 1593.2L611.9 1586.7L607 1582.2L613.7 1581.4Z" fill="#0000ff"/>
<path d="M639.4 1575.6L642.2 1581.6L648.8 1582.4L643.9 1586.9L645.2 1593.5L639.4 1590.2L633.6 1593.5L634.9 1586.9L630 1582.4L636.6 1581.6Z" fill="#0000ff"/>
<path d="M662.4 1575.9L665.2 1581.9L671.8 1582.7L666.9 1587.3L668.2 1593.8L662.4 1590.5L656.6 1593.8L657.9 1587.3L653 1582.7L659.6 1581.9Z" fill="#0000ff"/>
<path d="M685.4 1576.4L688.2 1582.4L694.8 1583.2L689.9 1587.8L691.2 1594.3L685.4 1591L679.6 1594.3L680.9 1587.8L676 1583.2L682.6 1582.4Z" fill="#0000ff"/>
<path d="M708.3 1577.2L711.1 1583.2L717.8 1584L712.9 1588.5L714.2 1595.1L708.3 1591.8L702.5 1595.1L703.8 1588.5L698.9 1584L705.5 1583.2Z" fill="#0000ff"/>
<path d="M731.3 1109.2L734.1 1115.3L740.7 1116L735.8 1120.6L737.1 1127.1L731.3 1123.9L725.5 1127.1L726.8 1120.6L721.9 1116L728.5 1115.3Z" fill="#0000ff"/>
<path d="M754.3 1578.8L757.1 1584.9L763.7 1585.6L758.8 1590.2L760.1 1596.7L754.3 1593.5L748.5 1596.7L749.8 1590.2L744.9 1585.6L751.5 1584.9Z" fill="#0000ff"/>
<path d="M777.2 1579.7L780 1585.8L786.7 1586.6L781.8 1591.1L783.1 1597.6L777.2 1594.4L771.4 1597.6L772.7 1591.1L767.8 1586.6L774.5 1585.8Z" fill="#0000ff"/>
<path d="M800.2 1580.7L803 1586.7L809.6 1587.5L804.7 1592L806 1598.6L800.2 1595.3L794.4 1598.6L795.7 1592L790.8 1587.5L797.4 1586.7Z" fill="#0000ff"/>
<path d="M823.2 1581.6L826 1587.7L832.6 1588.5L827.7 1593L829 1599.5L823.2 1596.3L817.4 1599.5L818.7 1593L813.8 1588.5L820.4 1587.7Z" fill="#0000ff"/>
<path d="M846.2 1582.6L849 1588.6L855.6 1589.4L850.7 1593.9L852 1600.5L846.2 1597.2L840.3 1600.5L841.6 1593.9L836.7 1589.4L843.4 1588.6Z" fill="#0000ff"/>
<path d="M869.1 1583.4L871.9 1589.5L878.5 1590.3L873.6 1594.8L874.9 1601.3L869.1 1598.1L863.3 1601.3L864.6 1594.8L859.7 1590.3L866.3 1589.5Z" fill="#0000ff"/>
<path d="M892.1 1584.3L894.9 1590.3L901.5 1591.1L896.6 1595.6L897.9 1602.2L892.1 1598.9L886.3 1602.2L887.6 1595.6L882.7 1591.1L889.3 1590.3Z" fill="#0000ff"/>
<path d="M915.1 1585.1L917.9 1591.1L924.5 1591.9L919.6 1596.5L920.9 1603L915.1 1599.7L909.3 1603L910.6 1596.5L905.7 1591.9L912.3 1591.1Z" fill="#0000ff"/>
<path d="M938 1585.9L940.8 1591.9L947.5 1592.7L942.6 1597.3L943.9 1603.8L938 1600.5L932.2 1603.8L933.5 1597.3L928.6 1592.7L935.2 1591.9Z" fill="#0000ff"/>
<path d="M961 1586.6L963.8 1592.7L970.4 1593.5L965.5 1598L966.8 1604.6L961 1601.3L955.2 1604.6L956.5 1598L951.6 1593.5L958.2 1592.7Z" fill="#0000ff"/>
<path d="M984 1587.3L986.8 1593.4L993.4 1594.2L988.5 1598.7L989.8 1605.3L984 1602L978.2 1605.3L979.5 1598.7L974.6 1594.2L981.2 1593.4Z" fill="#0000ff"/>
<path d="M1006.9 1588L1009.7 1594.1L1016.4 1594.9L1011.5 1599.4L1012.8 1605.9L1006.9 1602.7L1001.1 1605.9L1002.4 1599.4L997.5 1594.9L1004.2 1594.1Z" fill="#0000ff"/>
<path d="M1029.9 1588.7L1032.7 1594.7L1039.3 1595.5L1034.4 1600.1L1035.7 1606.6L1029.9 1603.3L1024.1 1606.6L1025.4 1600.1L1020.5 1595.5L1027.1 1594.7Z" fill="#0000ff"/>
<path d="M1052.9 1589.3L1055.7 1595.4L1062.3 1596.2L1057.4 1600.7L1058.7 1607.2L1052.9 1604L1047.1 1607.2L1048.4 1600.7L1043.5 1596.2L1050.1 1595.4Z" fill="#0000ff"/>
<path d="M1075.9 1589.9L1078.7 1596L1085.3 1596.7L1080.4 1601.3L1081.7 1607.8L1075.9 1604.6L1070 1607.8L1071.3 1601.3L1066.4 1596.7L1073.1 1596Z" fill="#0000ff"/>
<path d="M1098.8 1590.4L1101.6 1596.4L1108.2 1597.2L1103.3 1601.7L1104.6 1608.3L1098.8 1605L1093 1608.3L1094.3 1601.7L1089.4 1597.2L1096 1596.4Z" fill="#0000ff"/>
<path d="M1121.8 1590.7L1124.6 1596.8L1131.2 1597.6L1126.3 1602.1L1127.6 1608.6L1121.8 1605.4L1116 1608.6L1117.3 1602.1L1112.4 1597.6L1119 1596.8Z" fill="#0000ff"/>
<path d="M1144.8 1591L1147.6 1597.1L1154.2 1597.8L1149.3 1602.4L1150.6 1608.9L1144.8 1605.7L1139 1608.9L1140.3 1602.4L1135.4 1597.8L1142 1597.1Z" fill="#0000ff"/>
<path d="M1167.7 1591.3L1170.5 1597.3L1177.2 1598.1L1172.3 1602.6L1173.6 1609.2L1167.7 1605.9L1161.9 1609.2L1163.2 1602.6L1158.3 1598.1L1164.9 1597.3Z" fill="#0000ff"/>
<path d="M1190.7 1591.5L1193.5 1597.5L1200.1 1598.3L1195.2 1602.9L1196.5 1609.4L1190.7 1606.1L1184.9 1609.4L1186.2 1602.9L1181.3 1598.3L1187.9 1597.5Z" fill="#0000ff"/>
<path d="M1213.7 1591.7L1216.5 1597.7L1223.1 1598.5L1218.2 1603L1219.5 1609.6L1213.7 1606.3L1207.9 1609.6L1209.2 1603L1204.3 1598.5L1210.9 1597.7Z" fill="#0000ff"/>
<path d="M1236.6 1591.8L1239.4 1597.8L1246.1 1598.6L1241.2 1603.2L1242.5 1609.7L1236.6 1606.4L1230.8 1609.7L1232.1 1603.2L1227.2 1598.6L1233.9 1597.8Z" fill="#0000ff"/>
<path d="M1259.6 1591.9L1262.4 1597.9L1269 1598.7L1264.1 1603.2L1265.4 1609.8L1259.6 1606.5L1253.8 1609.8L1255.1 1603.2L1250.2 1598.7L1256.8 1597.9Z" fill="#0000ff"/>
<path d="M1282.6 1591.9L1285.4 1598L1292 1598.7L1287.1 1603.3L1288.4 1609.8L1282.6 1606.5L1276.8 1609.8L1278.1 1603.3L1273.2 1598.7L1279.8 1598Z" fill="#0000ff"/>
</g>
<g>
<path d="M1297.2 1593.6L1320.2 1593.2L1343.2 1592.7L1366.2 1592.2L1389.2 1591.3L1412.2 1590.4L1435.3 1589.7L1458.3 1589.1L1481.3 1588.6L1504.3 1588.1L1527.3 1587.5L1550.3 1587L1573.3 1586.6L1596.3 1586.4L1619.3 1586.3L1642.4 1586.2L1665.4 1586.1L1688.4 1585.9L1711.4 1586L1734.4 1586.2L1757.4 1586.6L1780.4 1586.9L1803.4 1587.5L1826.4 1588.4L1849.4 1589.1L1872.5 1589.7L1895.5 1590.3L1918.5 1590.8L1941.5 1591.4L1964.5 1591.9L1987.5 1592.5L2010.5 1593.1L2033.5 1593.7L2056.5 1594.3L2079.5 1594.8L2102.6 1595.5L2125.6 1596.1L2148.6 1596.7L2171.6 1597.3L2194.6 1597.8L2217.6 1598.3L2240.6 1598.7L2263.6 1599.1L2286.6 1599.4L2309.6 1599.7L2332.7 1600L2355.7 1600.2L2378.7 1600.4L2391 1600.5" fill="none" stroke="#8000ff" stroke-width="9.4" stroke-linejoin="round"/>
<path d="M1823 1119.2L1828.8 1119.2L1828.8 1489.8L1829.4 1489.8L1829.4 1594.3L1822.4 1594.3L1822.4 1333L1823 1333Z" fill="#8000ff"/>
<path d="M1295.4 1581.5L1299.1 1590.2L1308.5 1591L1301.4 1597.3L1303.5 1606.5L1295.4 1601.7L1287.3 1606.5L1289.4 1597.3L1282.3 1591L1291.7 1590.2Z" fill="#8000ff"/>
<path d="M1318.4 1581.1L1322.1 1589.8L1331.5 1590.6L1324.4 1596.9L1326.5 1606.1L1318.4 1601.2L1310.3 1606.1L1312.4 1596.9L1305.3 1590.6L1314.7 1589.8Z" fill="#8000ff"/>
<path d="M1341.4 1580.6L1345.2 1589.3L1354.5 1590.2L1347.5 1596.4L1349.5 1605.6L1341.4 1600.8L1333.3 1605.6L1335.4 1596.4L1328.3 1590.2L1337.7 1589.3Z" fill="#8000ff"/>
<path d="M1364.4 1580.1L1368.2 1588.8L1377.6 1589.6L1370.5 1595.9L1372.5 1605.1L1364.4 1600.2L1356.3 1605.1L1358.4 1595.9L1351.3 1589.6L1360.7 1588.8Z" fill="#8000ff"/>
<path d="M1387.4 1579.2L1391.2 1587.9L1400.6 1588.8L1393.5 1595L1395.6 1604.2L1387.4 1599.4L1379.3 1604.2L1381.4 1595L1374.3 1588.8L1383.7 1587.9Z" fill="#8000ff"/>
<path d="M1410.5 1578.3L1414.2 1587L1423.6 1587.9L1416.5 1594.1L1418.6 1603.3L1410.5 1598.5L1402.3 1603.3L1404.4 1594.1L1397.3 1587.9L1406.7 1587Z" fill="#8000ff"/>
<path d="M1433.5 1577.6L1437.2 1586.3L1446.6 1587.2L1439.5 1593.4L1441.6 1602.6L1433.5 1597.8L1425.3 1602.6L1427.4 1593.4L1420.3 1587.2L1429.7 1586.3Z" fill="#8000ff"/>
<path d="M1456.5 1577L1460.2 1585.7L1469.6 1586.6L1462.5 1592.8L1464.6 1602L1456.5 1597.2L1448.4 1602L1450.4 1592.8L1443.3 1586.6L1452.7 1585.7Z" fill="#8000ff"/>
<path d="M1479.5 1576.5L1483.2 1585.1L1492.6 1586L1485.5 1592.2L1487.6 1601.4L1479.5 1596.6L1471.4 1601.4L1473.4 1592.2L1466.4 1586L1475.7 1585.1Z" fill="#8000ff"/>
<path d="M1502.5 1576L1506.2 1584.6L1515.6 1585.5L1508.5 1591.7L1510.6 1600.9L1502.5 1596.1L1494.4 1600.9L1496.5 1591.7L1489.4 1585.5L1498.8 1584.6Z" fill="#8000ff"/>
<path d="M1525.5 1575.4L1529.2 1584.1L1538.6 1585L1531.5 1591.2L1533.6 1600.4L1525.5 1595.6L1517.4 1600.4L1519.5 1591.2L1512.4 1585L1521.8 1584.1Z" fill="#8000ff"/>
<path d="M1548.5 1574.9L1552.2 1583.6L1561.6 1584.5L1554.5 1590.7L1556.6 1599.9L1548.5 1595.1L1540.4 1599.9L1542.5 1590.7L1535.4 1584.5L1544.8 1583.6Z" fill="#8000ff"/>
<path d="M1571.5 1574.5L1575.3 1583.2L1584.6 1584.1L1577.6 1590.3L1579.6 1599.5L1571.5 1594.7L1563.4 1599.5L1565.5 1590.3L1558.4 1584.1L1567.8 1583.2Z" fill="#8000ff"/>
<path d="M1594.5 1574.3L1598.3 1583L1607.7 1583.8L1600.6 1590.1L1602.6 1599.3L1594.5 1594.4L1586.4 1599.3L1588.5 1590.1L1581.4 1583.8L1590.8 1583Z" fill="#8000ff"/>
<path d="M1617.5 1574.2L1621.3 1582.9L1630.7 1583.7L1623.6 1590L1625.7 1599.2L1617.5 1594.4L1609.4 1599.2L1611.5 1590L1604.4 1583.7L1613.8 1582.9Z" fill="#8000ff"/>
<path d="M1640.6 1574.1L1644.3 1582.8L1653.7 1583.7L1646.6 1589.9L1648.7 1599.1L1640.6 1594.3L1632.4 1599.1L1634.5 1589.9L1627.4 1583.7L1636.8 1582.8Z" fill="#8000ff"/>
<path d="M1663.6 1574L1667.3 1582.6L1676.7 1583.5L1669.6 1589.7L1671.7 1598.9L1663.6 1594.1L1655.4 1598.9L1657.5 1589.7L1650.4 1583.5L1659.8 1582.6Z" fill="#8000ff"/>
<path d="M1686.6 1573.8L1690.3 1582.5L1699.7 1583.3L1692.6 1589.6L1694.7 1598.8L1686.6 1593.9L1678.5 1598.8L1680.5 1589.6L1673.4 1583.3L1682.8 1582.5Z" fill="#8000ff"/>
<path d="M1709.6 1573.9L1713.3 1582.6L1722.7 1583.4L1715.6 1589.7L1717.7 1598.9L1709.6 1594L1701.5 1598.9L1703.5 1589.7L1696.5 1583.4L1705.8 1582.6Z" fill="#8000ff"/>
<path d="M1732.6 1574.1L1736.3 1582.8L1745.7 1583.7L1738.6 1589.9L1740.7 1599.1L1732.6 1594.3L1724.5 1599.1L1726.6 1589.9L1719.5 1583.7L1728.9 1582.8Z" fill="#8000ff"/>
<path d="M1755.6 1574.5L1759.3 1583.1L1768.7 1584L1761.6 1590.2L1763.7 1599.4L1755.6 1594.6L1747.5 1599.4L1749.6 1590.2L1742.5 1584L1751.9 1583.1Z" fill="#8000ff"/>
<path d="M1778.6 1574.8L1782.3 1583.5L1791.7 1584.4L1784.6 1590.6L1786.7 1599.8L1778.6 1595L1770.5 1599.8L1772.6 1590.6L1765.5 1584.4L1774.9 1583.5Z" fill="#8000ff"/>
<path d="M1801.6 1575.4L1805.4 1584.1L1814.7 1585L1807.7 1591.2L1809.7 1600.4L1801.6 1595.6L1793.5 1600.4L1795.6 1591.2L1788.5 1585L1797.9 1584.1Z" fill="#8000ff"/>
<path d="M1824.6 1105.4L1828.4 1114.1L1837.8 1114.9L1830.7 1121.2L1832.7 1130.4L1824.6 1125.5L1816.5 1130.4L1818.6 1121.2L1811.5 1114.9L1820.9 1114.1Z" fill="#8000ff"/>
<path d="M1847.6 1577L1851.4 1585.7L1860.8 1586.6L1853.7 1592.8L1855.8 1602L1847.6 1597.2L1839.5 1602L1841.6 1592.8L1834.5 1586.6L1843.9 1585.7Z" fill="#8000ff"/>
<path d="M1870.7 1577.6L1874.4 1586.3L1883.8 1587.2L1876.7 1593.4L1878.8 1602.6L1870.7 1597.8L1862.5 1602.6L1864.6 1593.4L1857.5 1587.2L1866.9 1586.3Z" fill="#8000ff"/>
<path d="M1893.7 1578.2L1897.4 1586.9L1906.8 1587.7L1899.7 1594L1901.8 1603.2L1893.7 1598.4L1885.5 1603.2L1887.6 1594L1880.5 1587.7L1889.9 1586.9Z" fill="#8000ff"/>
<path d="M1916.7 1578.7L1920.4 1587.4L1929.8 1588.3L1922.7 1594.5L1924.8 1603.7L1916.7 1598.9L1908.6 1603.7L1910.6 1594.5L1903.5 1588.3L1912.9 1587.4Z" fill="#8000ff"/>
<path d="M1939.7 1579.3L1943.4 1587.9L1952.8 1588.8L1945.7 1595L1947.8 1604.2L1939.7 1599.4L1931.6 1604.2L1933.6 1595L1926.6 1588.8L1935.9 1587.9Z" fill="#8000ff"/>
<path d="M1962.7 1579.8L1966.4 1588.5L1975.8 1589.4L1968.7 1595.6L1970.8 1604.8L1962.7 1600L1954.6 1604.8L1956.7 1595.6L1949.6 1589.4L1959 1588.5Z" fill="#8000ff"/>
<path d="M1985.7 1580.4L1989.4 1589.1L1998.8 1589.9L1991.7 1596.2L1993.8 1605.4L1985.7 1600.6L1977.6 1605.4L1979.7 1596.2L1972.6 1589.9L1982 1589.1Z" fill="#8000ff"/>
<path d="M2008.7 1581L2012.4 1589.7L2021.8 1590.5L2014.7 1596.7L2016.8 1606L2008.7 1601.1L2000.6 1606L2002.7 1596.7L1995.6 1590.5L2005 1589.7Z" fill="#8000ff"/>
<path d="M2031.7 1581.6L2035.5 1590.2L2044.8 1591.1L2037.8 1597.3L2039.8 1606.5L2031.7 1601.7L2023.6 1606.5L2025.7 1597.3L2018.6 1591.1L2028 1590.2Z" fill="#8000ff"/>
<path d="M2054.7 1582.2L2058.5 1590.8L2067.9 1591.7L2060.8 1597.9L2062.8 1607.1L2054.7 1602.3L2046.6 1607.1L2048.7 1597.9L2041.6 1591.7L2051 1590.8Z" fill="#8000ff"/>
<path d="M2077.7 1582.7L2081.5 1591.4L2090.9 1592.3L2083.8 1598.5L2085.9 1607.7L2077.7 1602.9L2069.6 1607.7L2071.7 1598.5L2064.6 1592.3L2074 1591.4Z" fill="#8000ff"/>
<path d="M2100.8 1583.4L2104.5 1592L2113.9 1592.9L2106.8 1599.1L2108.9 1608.3L2100.8 1603.5L2092.6 1608.3L2094.7 1599.1L2087.6 1592.9L2097 1592Z" fill="#8000ff"/>
<path d="M2123.8 1584L2127.5 1592.7L2136.9 1593.5L2129.8 1599.8L2131.9 1609L2123.8 1604.1L2115.6 1609L2117.7 1599.8L2110.6 1593.5L2120 1592.7Z" fill="#8000ff"/>
<path d="M2146.8 1584.6L2150.5 1593.3L2159.9 1594.2L2152.8 1600.4L2154.9 1609.6L2146.8 1604.8L2138.7 1609.6L2140.7 1600.4L2133.6 1594.2L2143 1593.3Z" fill="#8000ff"/>
<path d="M2169.8 1585.2L2173.5 1593.9L2182.9 1594.8L2175.8 1601L2177.9 1610.2L2169.8 1605.4L2161.7 1610.2L2163.7 1601L2156.7 1594.8L2166 1593.9Z" fill="#8000ff"/>
<path d="M2192.8 1585.7L2196.5 1594.4L2205.9 1595.3L2198.8 1601.5L2200.9 1610.7L2192.8 1605.9L2184.7 1610.7L2186.8 1601.5L2179.7 1595.3L2189.1 1594.4Z" fill="#8000ff"/>
<path d="M2215.8 1586.2L2219.5 1594.8L2228.9 1595.7L2221.8 1601.9L2223.9 1611.1L2215.8 1606.3L2207.7 1611.1L2209.8 1601.9L2202.7 1595.7L2212.1 1594.8Z" fill="#8000ff"/>
<path d="M2238.8 1586.6L2242.5 1595.3L2251.9 1596.1L2244.8 1602.4L2246.9 1611.6L2238.8 1606.7L2230.7 1611.6L2232.8 1602.4L2225.7 1596.1L2235.1 1595.3Z" fill="#8000ff"/>
<path d="M2261.8 1587L2265.6 1595.6L2274.9 1596.5L2267.9 1602.7L2269.9 1611.9L2261.8 1607.1L2253.7 1611.9L2255.8 1602.7L2248.7 1596.5L2258.1 1595.6Z" fill="#8000ff"/>
<path d="M2284.8 1587.3L2288.6 1596L2298 1596.9L2290.9 1603.1L2292.9 1612.3L2284.8 1607.5L2276.7 1612.3L2278.8 1603.1L2271.7 1596.9L2281.1 1596Z" fill="#8000ff"/>
<path d="M2307.8 1587.6L2311.6 1596.3L2321 1597.2L2313.9 1603.4L2316 1612.6L2307.8 1607.8L2299.7 1612.6L2301.8 1603.4L2294.7 1597.2L2304.1 1596.3Z" fill="#8000ff"/>
<path d="M2330.8 1587.9L2334.6 1596.6L2344 1597.4L2336.9 1603.7L2339 1612.9L2330.8 1608L2322.7 1612.9L2324.8 1603.7L2317.7 1597.4L2327.1 1596.6Z" fill="#8000ff"/>
<path d="M2353.9 1588.1L2357.6 1596.8L2367 1597.7L2359.9 1603.9L2362 1613.1L2353.9 1608.3L2345.7 1613.1L2347.8 1603.9L2340.7 1597.7L2350.1 1596.8Z" fill="#8000ff"/>
<path d="M2376.9 1588.3L2380.6 1597L2390 1597.9L2382.9 1604.1L2385 1613.3L2376.9 1608.5L2368.8 1613.3L2370.8 1604.1L2363.7 1597.9L2373.1 1597Z" fill="#8000ff"/>
</g>
<g fill="#000">
<rect x="188" y="88" width="2208" height="4"/>
<rect x="188" y="594" width="2208" height="5"/>
<rect x="188" y="1101" width="2208" height="5"/>
<rect x="188" y="1607.2" width="2208" height="6"/>
<rect x="201" y="88" width="4" height="1537.5"/>
<rect x="1295.2" y="90" width="4.8" height="1521"/>
<rect x="2389.3" y="88" width="6.7" height="1537.8"/>
<rect x="194" y="151.5" width="8" height="4"/>
<rect x="188" y="215" width="14" height="4"/>
<rect x="194" y="278.5" width="8" height="4"/>
<rect x="188" y="342" width="14" height="4"/>
<rect x="194" y="405.5" width="8" height="4"/>
<rect x="188" y="469" width="14" height="4"/>
<rect x="194" y="532.5" width="8" height="4"/>
<rect x="194" y="657.6" width="8" height="5"/>
<rect x="188" y="720.6" width="14" height="5.8"/>
<rect x="194" y="784.4" width="8" height="5"/>
<rect x="188" y="847.4" width="14" height="5.8"/>
<rect x="194" y="911.2" width="8" height="5"/>
<rect x="188" y="974.2" width="14" height="5.8"/>
<rect x="194" y="1038" width="8" height="5"/>
<rect x="194" y="1163.7" width="8" height="6"/>
<rect x="188" y="1226.4" width="14" height="7.2"/>
<rect x="194" y="1290.3" width="8" height="6"/>
<rect x="188" y="1353" width="14" height="7.2"/>
<rect x="194" y="1416.9" width="8" height="6"/>
<rect x="188" y="1479.6" width="14" height="7.2"/>
<rect x="194" y="1543.5" width="8" height="6"/>
<rect x="310.7" y="1611" width="3.6" height="8.6"/>
<rect x="419.9" y="1611" width="4.2" height="14.5"/>
<rect x="529.7" y="1611" width="3.6" height="8.6"/>
<rect x="638.9" y="1611" width="4.2" height="14.5"/>
<rect x="748.7" y="1611" width="3.6" height="8.6"/>
<rect x="857.9" y="1611" width="4.2" height="14.5"/>
<rect x="967.7" y="1611" width="3.6" height="8.6"/>
<rect x="1076.9" y="1611" width="4.2" height="14.5"/>
<rect x="1186.7" y="1611" width="3.6" height="8.6"/>
<rect x="1403.1" y="1611" width="6.2" height="8.6"/>
<rect x="1512.6" y="1611" width="6.2" height="14.5"/>
<rect x="1622.2" y="1611" width="6.2" height="8.6"/>
<rect x="1731.7" y="1611" width="6.2" height="14.5"/>
<rect x="1841.2" y="1611" width="6.2" height="8.6"/>
<rect x="1950.7" y="1611" width="6.2" height="14.5"/>
<rect x="2060.2" y="1611" width="6.2" height="8.6"/>
<rect x="2169.8" y="1611" width="6.2" height="14.5"/>
<rect x="2279.3" y="1611" width="6.2" height="8.6"/>
</g>
<g font-size="35">
<text x="180.4" y="100.6" text-anchor="end">20</text>
<text x="180.4" y="227.6" text-anchor="end">0</text>
<text x="180.4" y="354.6" text-anchor="end">-20</text>
<text x="180.4" y="481.6" text-anchor="end">-40</text>
<text x="180.2" y="606.6" text-anchor="end">20</text>
<text x="180.6" y="608.2" text-anchor="end">20</text>
<text x="180.2" y="733.4" text-anchor="end">0</text>
<text x="180.6" y="735" text-anchor="end">0</text>
<text x="180.2" y="860.2" text-anchor="end">-20</text>
<text x="180.6" y="861.8" text-anchor="end">-20</text>
<text x="180.2" y="987" text-anchor="end">-40</text>
<text x="180.6" y="988.6" text-anchor="end">-40</text>
<text x="180.2" y="1113.3" text-anchor="end">20</text>
<text x="180.6" y="1114.9" text-anchor="end">20</text>
<text x="180.2" y="1239.9" text-anchor="end">0</text>
<text x="180.6" y="1241.5" text-anchor="end">0</text>
<text x="180.2" y="1366.5" text-anchor="end">-20</text>
<text x="180.6" y="1368.1" text-anchor="end">-20</text>
<text x="180.2" y="1493.1" text-anchor="end">-40</text>
<text x="180.6" y="1494.7" text-anchor="end">-40</text>
<text x="180.2" y="1619.7" text-anchor="end">-60</text>
<text x="180.6" y="1621.3" text-anchor="end">-60</text>
<text x="169.8" y="1658.6" textLength="65" lengthAdjust="spacing">1528</text>
<text x="172.4" y="1659.2" textLength="63" lengthAdjust="spacing">1528</text>
<text x="388.8" y="1658.6" textLength="65" lengthAdjust="spacing">1530</text>
<text x="391.4" y="1659.2" textLength="63" lengthAdjust="spacing">1530</text>
<text x="607.8" y="1658.6" textLength="65" lengthAdjust="spacing">1532</text>
<text x="610.4" y="1659.2" textLength="63" lengthAdjust="spacing">1532</text>
<text x="826.8" y="1658.6" textLength="65" lengthAdjust="spacing">1534</text>
<text x="829.4" y="1659.2" textLength="63" lengthAdjust="spacing">1534</text>
<text x="1045.8" y="1658.6" textLength="65" lengthAdjust="spacing">1536</text>
<text x="1048.4" y="1659.2" textLength="63" lengthAdjust="spacing">1536</text>
<text x="1482.8" y="1658.6" textLength="65" lengthAdjust="spacing">1530</text>
<text x="1485.4" y="1659.2" textLength="63" lengthAdjust="spacing">1530</text>
<text x="1701.9" y="1658.6" textLength="65" lengthAdjust="spacing">1532</text>
<text x="1704.5" y="1659.2" textLength="63" lengthAdjust="spacing">1532</text>
<text x="1921" y="1658.6" textLength="65" lengthAdjust="spacing">1534</text>
<text x="1923.6" y="1659.2" textLength="63" lengthAdjust="spacing">1534</text>
<text x="2140.1" y="1658.6" textLength="65" lengthAdjust="spacing">1536</text>
<text x="2142.7" y="1659.2" textLength="63" lengthAdjust="spacing">1536</text>
<text x="2359.2" y="1658.6" textLength="65" lengthAdjust="spacing">1538</text>
<text x="2361.8" y="1659.2" textLength="63" lengthAdjust="spacing">1538</text>
</g>
<g font-size="45.5">
<text transform="translate(105 372.6) rotate(-90)" text-anchor="middle" textLength="254.6" lengthAdjust="spacingAndGlyphs">Power (dBm)</text>
<text transform="translate(105 878.7) rotate(-90)" text-anchor="middle" textLength="254.6" lengthAdjust="spacingAndGlyphs">Power (dBm)</text>
<text transform="translate(105 1384.6) rotate(-90)" text-anchor="middle" textLength="254.6" lengthAdjust="spacingAndGlyphs">Power (dBm)</text>
</g>
<g font-size="47" text-anchor="middle" lengthAdjust="spacingAndGlyphs">
<text x="749" y="1725.2" textLength="331">Wavelength (nm)</text>
<text x="749.8" y="1728" textLength="331">Wavelength (nm)</text>
</g>
<g font-size="43.5" text-anchor="middle" lengthAdjust="spacingAndGlyphs">
<text x="1843.4" y="1721.6" textLength="306">Wavelength (nm)</text>
<text x="1845.2" y="1724" textLength="306">Wavelength (nm)</text>
</g>
<rect x="1091" y="117.6" width="82" height="4.4" fill="#ff0000"/>
<path d="M1130.8 111.2L1133.2 111.2L1141.6 125.4L1122.4 125.4Z" fill="#ff0000" stroke="#ff0000" stroke-width="0.8" stroke-linejoin="round"/>
<text x="1175.5" y="131.8" font-size="32">1</text>
<rect x="2197" y="129.9" width="85" height="4.2" fill="#ff8000"/>
<path d="M2238.4 120L2240.4 120L2251.7 138.9L2227.1 138.9Z" fill="#ff8000"/><path d="M2239.4 128.8L2242.6 134L2236.2 134Z" fill="#fff"/>
<text x="2285.5" y="144.2" font-size="32">2</text>
<text x="2287.9" y="144.6" font-size="32">2</text>
<rect x="1091" y="623.9" width="82" height="5" fill="#008000"/>
<rect x="1125" y="619.4" width="14" height="14" fill="#008000"/>
<text x="1178.5" y="638.8" font-size="32">3</text>
<text x="1179.7" y="639.2" font-size="32">3</text>
<rect x="2197" y="620.1" width="84" height="5" fill="#ff00ff"/>
<rect x="2230" y="614.9" width="16.8" height="15.8" fill="#ff00ff"/><rect x="2234.2" y="619.3" width="6" height="6.4" fill="#fff"/>
<text x="2282.5" y="635" font-size="32">4</text>
<text x="2284.1" y="635.4" font-size="32">4</text>
<rect x="1091" y="1138" width="82" height="6" fill="#0000ff"/>
<path d="M1131.4 1131.2L1134.2 1137.3L1140.8 1138L1135.9 1142.6L1137.2 1149.1L1131.4 1145.9L1125.6 1149.1L1126.9 1142.6L1122 1138L1128.6 1137.3Z" fill="#0000ff"/>
<text x="1179" y="1153.9" font-size="32">5</text>
<text x="1180.4" y="1152.1" font-size="32">5</text>
<rect x="2197" y="1143.9" width="84" height="5.2" fill="#8000ff"/>
<path d="M2237.2 1132.7L2240.9 1141.4L2250.3 1142.2L2243.2 1148.5L2245.3 1157.7L2237.2 1152.8L2229.1 1157.7L2231.2 1148.5L2224.1 1142.2L2233.5 1141.4Z" fill="#8000ff"/>
<text x="2285.5" y="1159" font-size="32">6</text>
<text x="2287.7" y="1157.4" font-size="32">6</text>
</svg></body></html>
